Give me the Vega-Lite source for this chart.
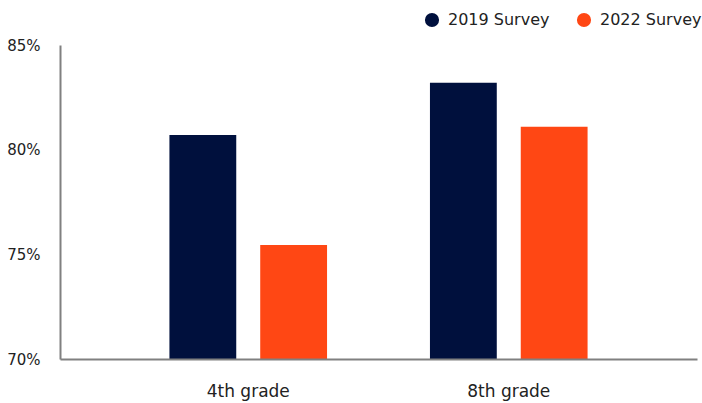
{
  "$schema": "https://vega.github.io/schema/vega-lite/v6.json",
  "width": 637,
  "height": 314,
  "autosize": {"type": "none"},
  "padding": {"left": 60, "top": 45, "right": 5, "bottom": 44},
  "background": "white",
  "config": {
    "font": "DejaVu Sans",
    "view": {"stroke": null}
  },
  "data": {
    "values": [
      {"grade": "4th grade", "survey": "2019 Survey", "value": 0.807},
      {"grade": "4th grade", "survey": "2022 Survey", "value": 0.7545},
      {"grade": "8th grade", "survey": "2019 Survey", "value": 0.832},
      {"grade": "8th grade", "survey": "2022 Survey", "value": 0.811}
    ]
  },
  "mark": {"type": "bar", "clip": true},
  "encoding": {
    "x": {
      "field": "grade",
      "type": "nominal",
      "scale": {"paddingInner": 0.395, "paddingOuter": 0.42},
      "axis": {
        "title": null,
        "labelAngle": 0,
        "ticks": false,
        "domainColor": "#808080",
        "domainWidth": 2,
        "labelFontSize": 17,
        "labelColor": "#222222",
        "labelPadding": 24,
        "zindex": 1
      }
    },
    "xOffset": {
      "field": "survey",
      "type": "nominal",
      "scale": {"paddingInner": 0.264, "paddingOuter": 0}
    },
    "y": {
      "field": "value",
      "type": "quantitative",
      "scale": {"domain": [0.7, 0.85], "zero": false, "nice": false},
      "axis": {
        "title": null,
        "format": ".0%",
        "values": [0.7, 0.75, 0.8, 0.85],
        "grid": false,
        "ticks": false,
        "domainColor": "#808080",
        "domainWidth": 2,
        "labelFontSize": 15,
        "labelColor": "#222222",
        "labelPadding": 20
      }
    },
    "y2": {"datum": 0.7},
    "color": {
      "field": "survey",
      "type": "nominal",
      "scale": {"domain": ["2019 Survey", "2022 Survey"], "range": ["#00103D", "#FF4714"]},
      "legend": {
        "title": null,
        "orient": "none",
        "direction": "horizontal",
        "legendX": 364,
        "legendY": -33,
        "symbolType": "circle",
        "symbolSize": 200,
        "symbolStrokeWidth": 0,
        "symbolOpacity": 1,
        "labelFontSize": 16,
        "labelColor": "#222222",
        "labelOffset": 8,
        "columnPadding": 26
      }
    }
  }
}
